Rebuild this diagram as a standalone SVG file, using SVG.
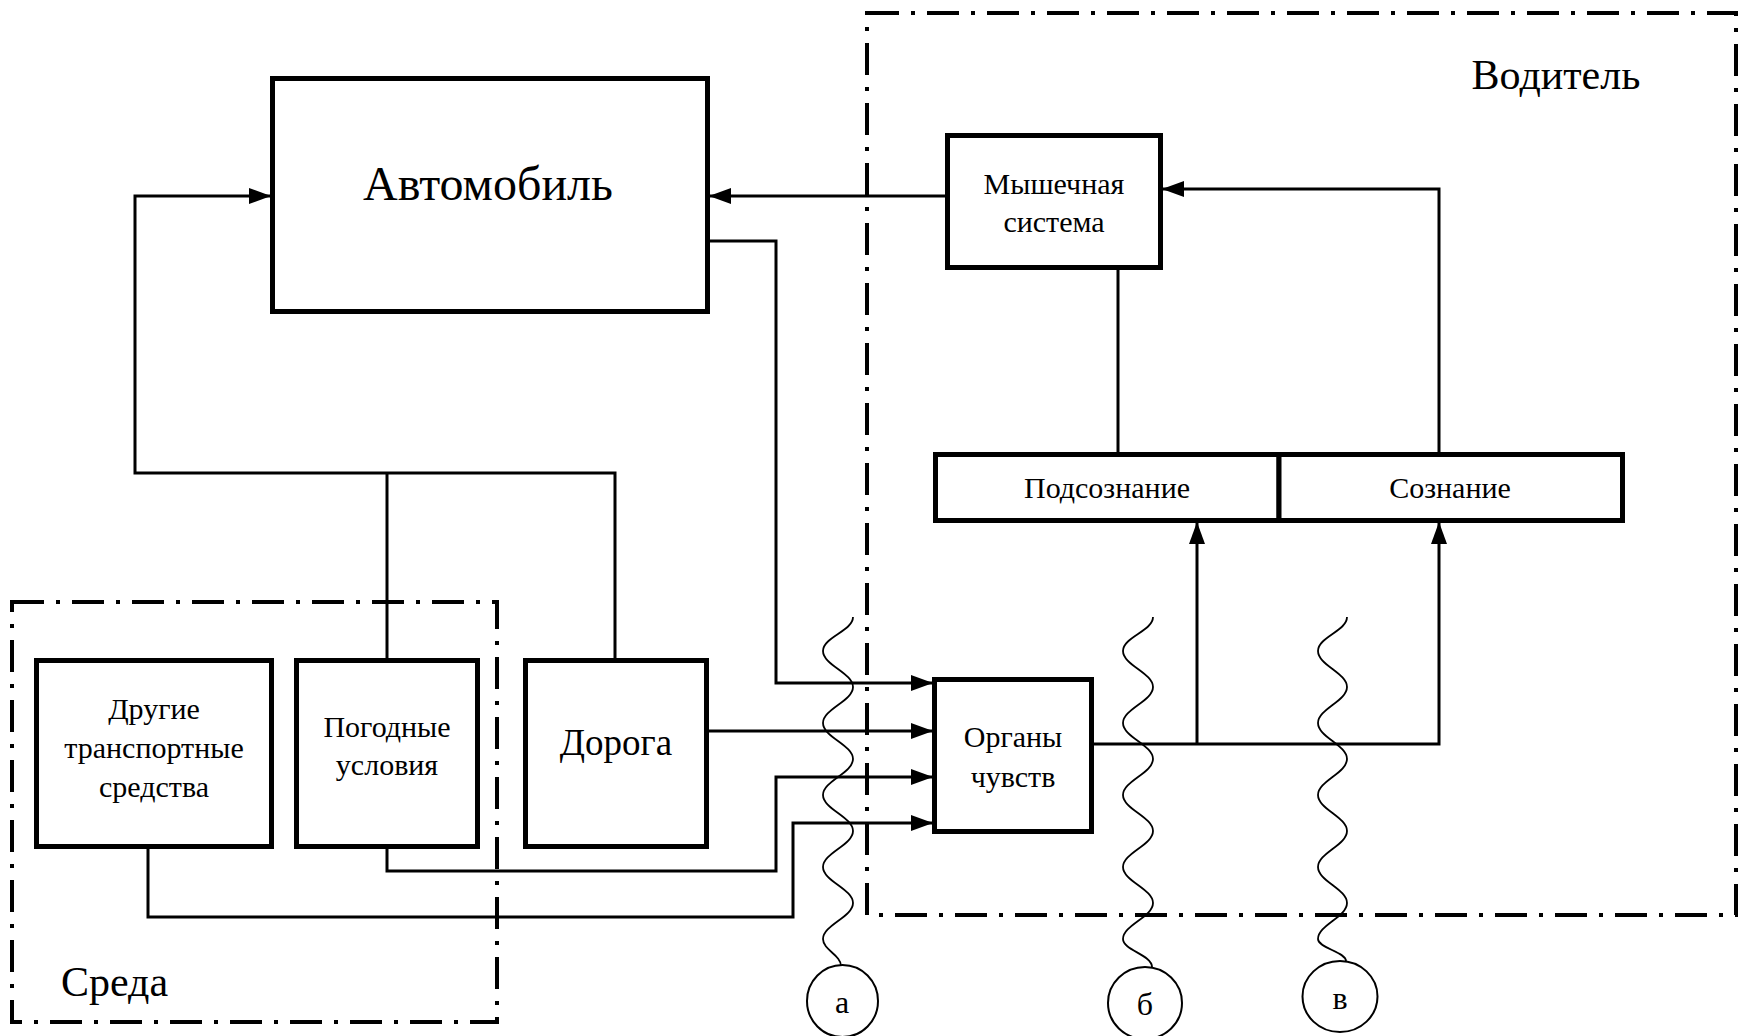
<svg xmlns="http://www.w3.org/2000/svg" width="1743" height="1036" viewBox="0 0 1743 1036">
<style>
.box{fill:#fff;stroke:#000;stroke-width:5}
.frame{fill:none;stroke:#000;stroke-width:4;stroke-dasharray:32 12 4 12}
.conn{fill:none;stroke:#000;stroke-width:3}
.wave{fill:none;stroke:#000;stroke-width:1.8}
.circ{fill:#fff;stroke:#000;stroke-width:2}
text{font-family:"Liberation Serif","Times New Roman",serif;fill:#000;text-anchor:middle}
.t30{font-size:30px}
</style>
<defs>
<marker id="arr" markerUnits="userSpaceOnUse" markerWidth="22" markerHeight="16" refX="22" refY="8" orient="auto">
<path d="M0,0 L22,8 L0,16 Z" fill="#000"/>
</marker>
</defs>
<rect width="1743" height="1036" fill="#fff"/>

<g id="frames">
<rect id="driver-frame" class="frame" x="867" y="13" width="869" height="902"/>
<rect id="env-frame" class="frame" x="12" y="602" width="485" height="420"/>
<text x="1556" y="89" style="font-size:42px">Водитель</text>
<text x="61" y="996" style="font-size:42px;text-anchor:start">Среда</text>
</g>

<g id="connectors">
<path class="conn" d="M615,658 V473 H135 V196 H271" marker-end="url(#arr)"/>
<path class="conn" d="M387,658 V473"/>
<path class="conn" d="M945,196 H709" marker-end="url(#arr)"/>
<path class="conn" d="M710,241 H776 V683 H933" marker-end="url(#arr)"/>
<path class="conn" d="M709,731 H933" marker-end="url(#arr)"/>
<path class="conn" d="M387,849 V871 H776 V777 H933" marker-end="url(#arr)"/>
<path class="conn" d="M148,849 V917 H793 V823 H933" marker-end="url(#arr)"/>
<path class="conn" d="M1118,270 V452"/>
<path class="conn" d="M1439,452 V189 H1162" marker-end="url(#arr)"/>
<path class="conn" d="M1094,744 H1439 V522" marker-end="url(#arr)"/>
<path class="conn" d="M1197,744 V522" marker-end="url(#arr)"/>
</g>

<g id="car">
<rect class="box" x="272.5" y="78.5" width="435" height="233"/>
<text x="488" y="200" style="font-size:48px">Автомобиль</text>
</g>

<g id="muscle">
<rect class="box" x="947.5" y="135.5" width="213" height="132"/>
<text class="t30" x="1054" y="194">Мышечная</text>
<text class="t30" x="1054" y="232">система</text>
</g>

<g id="subconscious">
<rect class="box" x="935.5" y="454.5" width="343.5" height="66"/>
<text class="t30" x="1107" y="498">Подсознание</text>
</g>

<g id="conscious">
<rect class="box" x="1279" y="454.5" width="343.5" height="66"/>
<text class="t30" x="1450" y="498">Сознание</text>
</g>

<g id="senses">
<rect class="box" x="934.5" y="679.5" width="157" height="152"/>
<text class="t30" x="1013" y="747">Органы</text>
<text class="t30" x="1013" y="787">чувств</text>
</g>

<g id="vehicles">
<rect class="box" x="36.5" y="660.5" width="235" height="186"/>
<text class="t30" x="154" y="719">Другие</text>
<text class="t30" x="154" y="758">транспортные</text>
<text class="t30" x="154" y="797">средства</text>
</g>

<g id="weather">
<rect class="box" x="296.5" y="660.5" width="181" height="186"/>
<text class="t30" x="387" y="737">Погодные</text>
<text class="t30" x="387" y="775">условия</text>
</g>

<g id="road">
<rect class="box" x="525.5" y="660.5" width="181" height="186"/>
<text x="616" y="755" style="font-size:37px">Дорога</text>
</g>

<g id="noise-a">
<path class="wave" d="M853,617 C853,631 823,637 823,651 C823,665 853,673 853,687 C853,701 823,709 823,723 C823,737 853,745 853,759 C853,773 823,781 823,795 C823,809 853,817 853,831 C853,845 823,853 823,867 C823,881 853,889 853,903 C853,917 823,925 823,939 C823,950 841,955 841,966"/>
<ellipse class="circ" cx="842.5" cy="1001" rx="35.5" ry="36"/>
<text x="842" y="1013" style="font-size:32px">а</text>
</g>

<g id="noise-b">
<path class="wave" d="M1153,617 C1153,631 1123,637 1123,651 C1123,665 1153,673 1153,687 C1153,701 1123,709 1123,723 C1123,737 1153,745 1153,759 C1153,773 1123,781 1123,795 C1123,809 1153,817 1153,831 C1153,845 1123,853 1123,867 C1123,881 1153,889 1153,903 C1153,917 1123,925 1123,939 C1123,950 1152,955 1152,967"/>
<ellipse class="circ" cx="1145" cy="1003" rx="37" ry="36"/>
<text x="1145" y="1015" style="font-size:32px">б</text>
</g>

<g id="noise-c">
<path class="wave" d="M1347,617 C1347,631 1318,637 1318,651 C1318,665 1347,673 1347,687 C1347,701 1318,709 1318,723 C1318,737 1347,745 1347,759 C1347,773 1318,781 1318,795 C1318,809 1347,817 1347,831 C1347,845 1318,853 1318,867 C1318,881 1347,889 1347,903 C1347,917 1318,925 1318,939 C1318,948 1346,952 1346,961"/>
<ellipse class="circ" cx="1340" cy="996.5" rx="37.5" ry="35.5"/>
<text x="1340" y="1009" style="font-size:32px">в</text>
</g>
</svg>
